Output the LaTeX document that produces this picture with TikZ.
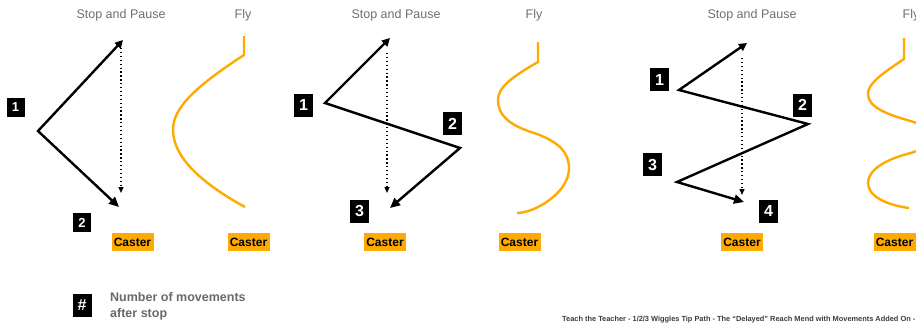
\documentclass[tikz,border=0pt]{standalone}
\usepackage{fontspec}
\setmainfont{Liberation Sans}
\usetikzlibrary{arrows.meta,positioning}
\definecolor{caster}{RGB}{255,170,0}
\definecolor{headgray}{RGB}{110,110,110}
\definecolor{notegray}{RGB}{105,105,105}
\definecolor{footgray}{RGB}{60,60,60}
\tikzset{
  heading/.style={text=headgray,font=\fontsize{12.5}{14}\selectfont},
  casterbox/.style={fill=caster,font=\bfseries\fontsize{12}{14}\selectfont,minimum width=42pt,minimum height=18pt,inner sep=0pt},
  numbox/.style={fill=black,text=white,font=\bfseries\fontsize{16}{16}\selectfont,minimum width=19pt,minimum height=23pt,inner sep=0pt},
  smallnum/.style={numbox,font=\bfseries\fontsize{13}{13}\selectfont,minimum width=18pt,minimum height=19pt},
  tippath/.style={line width=2.4pt,line join=miter,{Triangle[length=8pt,width=8pt]}-{Triangle[length=10pt,width=9pt]}},
  stopline/.style={line width=1.3pt,dash pattern=on 1.3pt off 2.6pt,-{Triangle[length=6pt,width=5pt]}},
  flyline/.style={draw=caster,line width=2.4pt}
}
\begin{document}
\begin{tikzpicture}[x=1pt,y=-1pt]
  \useasboundingbox (0,0) rectangle (916,322);
  \clip (0,0) rectangle (916,322);
  % one wiggle
  \node[heading] (stopA) at (121,15) {Stop and Pause};
  \node[heading] (flyA) at (243,15) {Fly};
  \coordinate (a0) at (123,40);
  \coordinate (a1) at (38,131);
  \coordinate (a2) at (119,207);
  \draw[tippath] (a0) -- (a1) -- (a2);
  \coordinate (da0) at (121,48);
  \coordinate (da1) at (121,193);
  \draw[stopline] (da0) -- (da1);
  \node[smallnum] (nA1) at (15.5,107.5) {1};
  \node[smallnum] (nA2) at (82,222.5) {2};
  \draw[flyline] (244,36) -- (244,55) .. controls (190,90) and (173,110) .. (173,130)
    .. controls (173,152) and (192,178) .. (245,207);
  \node[casterbox] (casterA) at (132.5,242) {Caster};
  \node[casterbox] (casterflyA) at (248.5,242) {Caster};
  % two wiggles
  \node[heading] (stopB) at (396,15) {Stop and Pause};
  \node[heading] (flyB) at (534,15) {Fly};
  \coordinate (b0) at (390,38);
  \coordinate (b1) at (325,103);
  \coordinate (b2) at (460,148);
  \coordinate (b3) at (390,208);
  \draw[tippath] (b0) -- (b1) -- (b2) -- (b3);
  \coordinate (db0) at (387,53);
  \coordinate (db1) at (387,193);
  \draw[stopline] (db0) -- (db1);
  \node[numbox] (nB1) at (303.5,105) {1};
  \node[numbox] (nB2) at (452.5,123.5) {2};
  \node[numbox] (nB3) at (359.5,211) {3};
  \draw[flyline] (538,42) -- (538,62) .. controls (510,78) and (498,88) .. (498,100)
    .. controls (498,120) and (518,128) .. (537,134) .. controls (558,142) and (569,152) .. (569,168)
    .. controls (569,186) and (552,200) .. (538,207) .. controls (530,211) and (523,213) .. (517,213);
  \node[casterbox] (casterB) at (385,242) {Caster};
  \node[casterbox] (casterflyB) at (519.5,242) {Caster};
  % three wiggles
  \node[heading] (stopC) at (752,15) {Stop and Pause};
  \node[heading] (flyC) at (911,15) {Fly};
  \coordinate (c0) at (747,43);
  \coordinate (c1) at (679,90);
  \coordinate (c2) at (808,124);
  \coordinate (c3) at (677,182);
  \coordinate (c4) at (744,202);
  \draw[tippath] (c0) -- (c1) -- (c2) -- (c3) -- (c4);
  \coordinate (dc0) at (742,58);
  \coordinate (dc1) at (742,195);
  \draw[stopline] (dc0) -- (dc1);
  \node[numbox] (nC1) at (659.5,79.5) {1};
  \node[numbox] (nC2) at (802.5,105) {2};
  \node[numbox] (nC3) at (652.5,164.5) {3};
  \node[numbox] (nC4) at (768.5,211) {4};
  \draw[flyline] (904,38) -- (904,59) .. controls (880,75) and (868,84) .. (868,94)
    .. controls (868,108) and (890,115) .. (907,120) .. controls (925,125) and (932,130) .. (932,137)
    .. controls (932,145) and (922,150) .. (907,154) .. controls (885,160) and (868,170) .. (868,183)
    .. controls (868,196) and (886,205) .. (909,208);
  \node[casterbox] (casterC) at (742,242) {Caster};
  \node[casterbox] (casterflyC) at (894.5,242) {Caster};
  % legend and footer
  \node[numbox] (key) at (82,305) {\#};
  \node[anchor=north west,text=notegray,font=\bfseries\fontsize{12.5}{16}\selectfont,align=left,inner sep=0pt] (keytext) at (110,292) {Number of movements\\after stop};
  \node[anchor=base west,text=footgray,font=\bfseries\fontsize{7.4}{8}\selectfont,inner sep=0pt] (footer) at (562,321) {Teach the Teacher - 1/2/3 Wiggles Tip Path - The ``Delayed'' Reach Mend with Movements Added On -};
\end{tikzpicture}
\end{document}
